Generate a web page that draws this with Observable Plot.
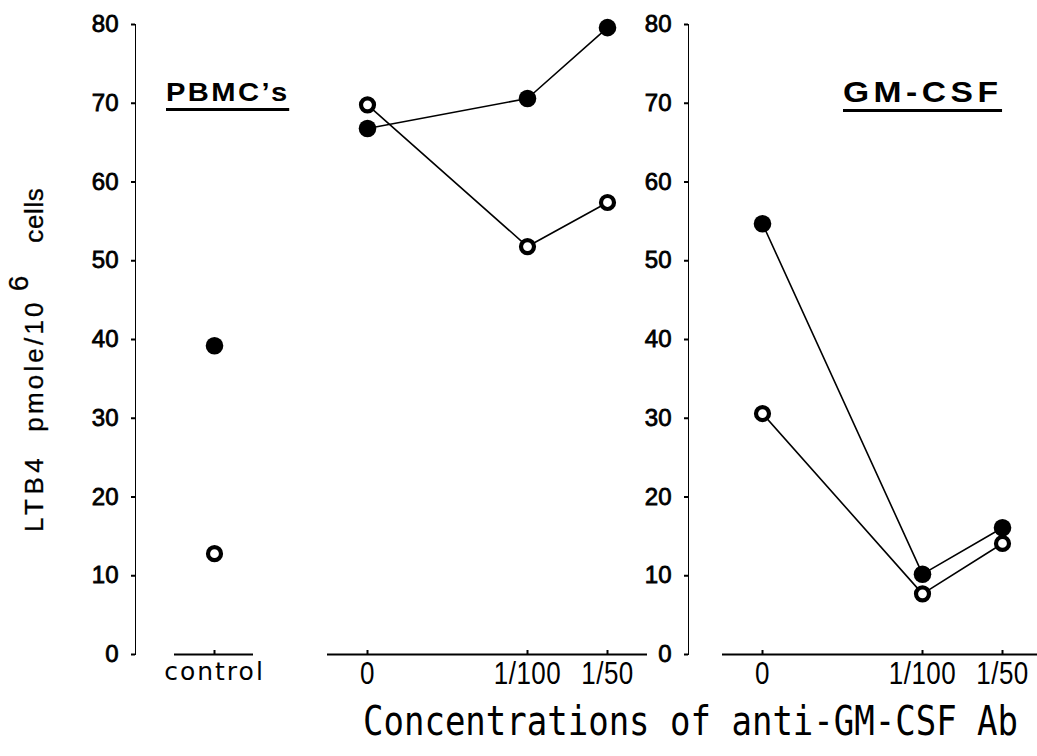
<!DOCTYPE html>
<html>
<head>
<meta charset="utf-8">
<script src="https://cdn.jsdelivr.net/npm/d3@7"></script>
<script src="https://cdn.jsdelivr.net/npm/@observablehq/plot@0.6"></script>
<style>
  html, body { margin: 0; padding: 0; background: #fff; overflow: hidden; }
  #chart { position: relative; width: 1037px; height: 756px; overflow: hidden; background: #fff; color: #000; }
  .panel { position: absolute; top: 0; }
  .panel svg { overflow: visible; max-width: none !important; }
  .ptitle { position: absolute; font-family: "Liberation Sans", Arial, sans-serif; font-weight: bold;
            line-height: 1; white-space: nowrap; transform-origin: 0 0; border-bottom: 3px solid #000; padding-bottom: 2px; }
  #xtitle { position: absolute; left: 363px; top: 700px; font-family: "DejaVu Sans Mono", monospace;
            font-size: 34px; line-height: 1; white-space: nowrap; transform: scale(1, 1.2); transform-origin: 0 0; }
  #ytitle { position: absolute; left: 0; top: 0; font-family: "Liberation Sans", Arial, sans-serif; font-size: 26px;
            -webkit-text-stroke: 0.3px #000;
            line-height: 28px; white-space: nowrap; transform-origin: 0 0; transform: translate(20px, 532px) rotate(-90deg); }
  #ytitle span { display: inline-block; }
</style>
</head>
<body>
<div id="chart"></div>
<script>
// ---------- data ----------
const controlCategory = ["control"];
const doseSlots = ["0", "gap", "1/100", "1/50"];   // "gap" is an empty slot on the axis
const doseLabels = ["0", "1/100", "1/50"];
const yTicks = [0, 10, 20, 30, 40, 50, 60, 70, 80];

const controlFilled = [39.2];
const controlOpen = [12.8];
const pbmcFilled = [66.8, 70.6, 79.6];
const pbmcOpen = [69.8, 51.8, 57.4];
const gmcsfFilled = [54.7, 10.2, 16.1];
const gmcsfOpen = [30.6, 7.7, 14.1];

const panelTitles = ["PBMC\u2019s", "GM-CSF"];
const xTitle = "Concentrations of anti-GM-CSF Ab";
const yTitleParts = ["LTB4", "pmole/10", "6", "cells"];

// ---------- drawing ----------
const H = 700, MT = 24, MB = 46;
const chart = document.getElementById("chart");

function rows(cats, values) { return cats.map((c, i) => ({cat: c, value: values[i]})); }

function makePanel({left, width, marginLeft, marginRight, inset, domain, cats, labels, filled, open, yAxis, labelCss, labelScale}) {
  const fRows = rows(cats, filled), oRows = rows(cats, open);
  const marks = [Plot.ruleY([0], {insetLeft: inset, strokeWidth: 2})];
  if (Plot.axisX) marks.push(Plot.axisX(labels, {tickSize: -4, tickFormat: () => "", strokeWidth: 2, label: null}));
  marks.push(
    Plot.text(labels, {x: d => d, y: 0, lineAnchor: "top", dy: 8}),
    Plot.line(fRows, {x: "cat", y: "value", stroke: "black", strokeWidth: 1.6}),
    Plot.line(oRows, {x: "cat", y: "value", stroke: "black", strokeWidth: 1.6}),
    Plot.dot(fRows, {x: "cat", y: "value", r: 8.8, fill: "black", stroke: "none"}),
    Plot.dot(oRows, {x: "cat", y: "value", r: 6.5, fill: "white", stroke: "black", strokeWidth: 4.2})
  );
  const svg = Plot.plot({
    width, height: H, marginLeft, marginRight, marginTop: MT, marginBottom: MB,
    style: {fontFamily: "'Liberation Sans', Arial, sans-serif", fontSize: "24px", background: "transparent",
            overflow: "visible", color: "black", maxWidth: "none"},
    x: {type: "point", domain, padding: 0.5, insetLeft: inset, axis: Plot.axisX ? undefined : null, label: null},
    y: yAxis ? {domain: [0, 80], ticks: yTicks, tickSize: 4, tickPadding: 13, line: true, label: null}
             : {domain: [0, 80], axis: null},
    marks
  });
  svg.style.maxWidth = "none";
  const div = document.createElement("div");
  div.className = "panel";
  div.style.left = left + "px";
  div.style.width = width + "px";
  div.appendChild(svg);
  chart.appendChild(div);
  svg.querySelectorAll("text").forEach(t => {
    const g = t.closest("g[aria-label]");
    const al = g ? g.getAttribute("aria-label") : "";
    if (al.startsWith("y-axis")) {
      t.style.stroke = "#000"; t.style.strokeWidth = "0.8px"; t.style.fontSize = "24px";
    } else if (!al.startsWith("x-axis") && labels.includes(t.textContent)) {
      Object.assign(t.style, labelCss);
      if (labelScale) t.setAttribute("transform", (t.getAttribute("transform") || "") + ` scale(1,${labelScale})`);
    }
  });
  svg.querySelectorAll('[aria-label^="y-axis"] path, [aria-label^="y-axis"] line').forEach(e => e.setAttribute("stroke-width", 2));
  return svg;
}

const doseCss = {fontSize: "26px", fontFamily: "'Liberation Sans', Arial, sans-serif", letterSpacing: "0.5px"};

makePanel({left: 0, width: 300, marginLeft: 135, marginRight: 47, inset: 39,
  domain: controlCategory, cats: controlCategory, labels: controlCategory,
  filled: controlFilled, open: controlOpen, yAxis: true,
  labelCss: {fontSize: "25px", fontFamily: "'DejaVu Sans', sans-serif", letterSpacing: "2px"}, labelScale: 1});

makePanel({left: 300, width: 360, marginLeft: 27, marginRight: 13, inset: 0,
  domain: doseSlots, cats: doseLabels, labels: doseLabels,
  filled: pbmcFilled, open: pbmcOpen, yAxis: false, labelCss: doseCss, labelScale: 1.18});

makePanel({left: 640, width: 410, marginLeft: 48, marginRight: 8, inset: 34,
  domain: doseSlots, cats: doseLabels, labels: doseLabels,
  filled: gmcsfFilled, open: gmcsfOpen, yAxis: true, labelCss: doseCss, labelScale: 1.18});

// panel titles
function addTitle(text, left, top, size, sx, ls) {
  const d = document.createElement("div");
  d.className = "ptitle";
  d.textContent = text;
  d.style.left = left + "px";
  d.style.top = top + "px";
  d.style.fontSize = size + "px";
  d.style.letterSpacing = ls + "px";
  d.style.transform = `scale(${sx}, 1)`;
  chart.appendChild(d);
}
addTitle(panelTitles[0], 166, 79, 26.5, 1.1, 2.2);
addTitle(panelTitles[1], 843, 77, 30, 1.12, 4);

// x title
const xt = document.createElement("div");
xt.id = "xtitle";
xt.textContent = xTitle;
chart.appendChild(xt);

// y title
const yt = document.createElement("div");
yt.id = "ytitle";
yt.innerHTML =
  `<span style="letter-spacing:4.5px;margin-right:22px">${yTitleParts[0]}</span>` +
  `<span style="letter-spacing:3.2px">${yTitleParts[1]}</span>` +
  `<span style="position:relative;top:-15px;margin-left:8px;font-size:28px">${yTitleParts[2]}</span>` +
  `<span style="margin-left:33px;letter-spacing:0.6px">${yTitleParts[3]}</span>`;
chart.appendChild(yt);
</script>
</body>
</html>
